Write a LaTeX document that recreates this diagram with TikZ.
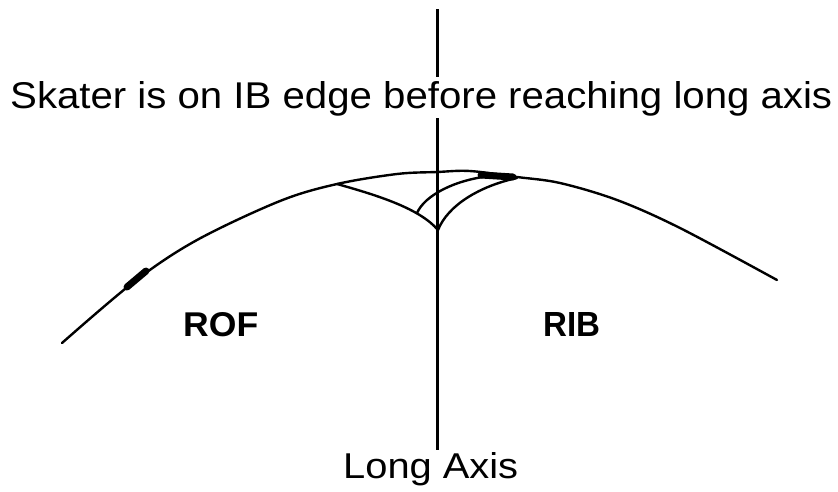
\documentclass[tikz,border=0pt]{standalone}
\usepackage{fontspec}
\setmainfont{Liberation Sans}
\usepackage{graphicx}
\begin{document}
\begin{tikzpicture}[x=1pt,y=-1pt,
  curve/.style={line width=2.4pt,line cap=round,line join=round},
  axisline/.style={line width=3pt},
  blob/.style={line width=7pt,line cap=round},
  lbl/.style={inner sep=0pt,anchor=base west}]
\useasboundingbox[fill=white] (0,0) rectangle (838,491);
% long axis
\coordinate (axtop) at (437,9);
\coordinate (gapA) at (437,77);
\coordinate (gapB) at (437,118);
\coordinate (axbot) at (437,450);
\draw[axisline] (axtop) -- (gapA);
\draw[axisline] (gapB) -- (axbot);
% main arc
\draw[curve] plot[smooth,tension=0.55] coordinates {(62,343) (135,281) (197,240) (280,201) (337,184) (397,174) (437,172) (470,171) (517,177) (560,183) (617,200) (680,228) (777,280)};
% cusp construction
\coordinate (bl) at (337,184);
\coordinate (cusp) at (438,230);
\coordinate (br) at (517,178);
\coordinate (il) at (417,213);
\coordinate (ir) at (490,176);
\draw[curve] (bl) .. controls (380,196) and (420,209) .. (cusp);
\draw[curve] (cusp) .. controls (448,205) and (480,186) .. (br);
\draw[curve] (il) .. controls (425,195) and (455,180) .. (ir);
% blobs
\coordinate (b1a) at (127,287);
\coordinate (b1b) at (146,271);
\coordinate (b2a) at (481,175);
\coordinate (b2b) at (513,177);
\draw[blob] (b1a) -- (b1b);
\draw[blob] (b2a) -- (b2b);
% texts
\node[lbl] (title) at (10,108) {\resizebox{822pt}{27pt}{Skater is on IB edge before reaching long axis}};
\node[lbl] (rof) at (183,336) {\resizebox{75pt}{24pt}{\bfseries ROF}};
\node[lbl] (rib) at (543,336) {\resizebox{57pt}{24pt}{\bfseries RIB}};
\node[lbl] (long) at (343,478) {\resizebox{175pt}{26pt}{Long Axis}};
\end{tikzpicture}
\end{document}
